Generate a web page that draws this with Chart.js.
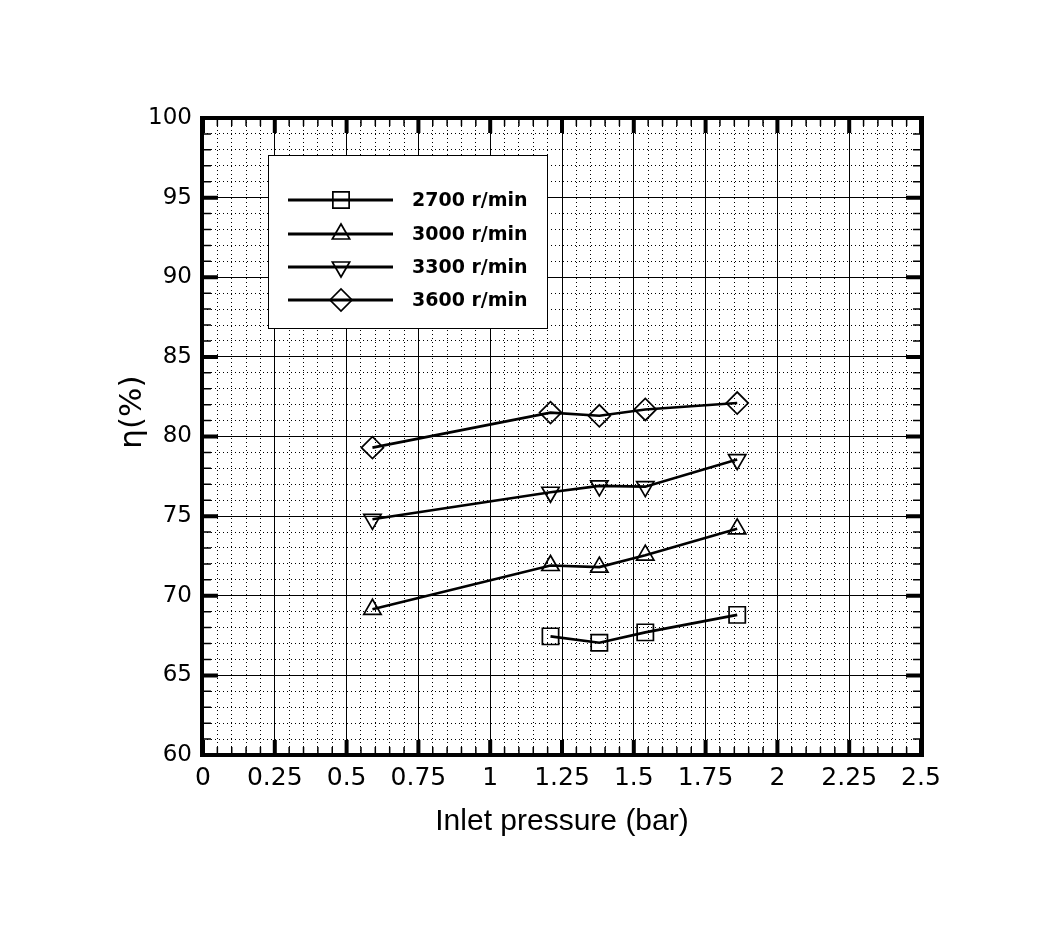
<!DOCTYPE html>
<html>
<head>
<meta charset="utf-8">
<script src="https://cdn.jsdelivr.net/npm/chart.js@4"></script>
<style>
  body { margin: 0; background: #fff; }
  #wrap { width: 1064px; height: 946px; }
</style>
</head>
<body>
<div id="wrap"><canvas id="etaChart" width="1064" height="946"></canvas></div>
<script>
// data
const pressure = [0.59, 1.21, 1.38, 1.54, 1.86];
const pressure2700 = [1.21, 1.38, 1.54, 1.86];
const eta2700 = [67.45, 67.05, 67.7, 68.8];
const eta3000 = [69.15, 71.9, 71.8, 72.55, 74.2];
const eta3300 = [74.8, 76.5, 76.9, 76.85, 78.55];
const eta3600 = [79.3, 81.5, 81.3, 81.7, 82.1];
const seriesNames = ['2700 r/min', '3000 r/min', '3300 r/min', '3600 r/min'];
const xTicks = [0, 0.25, 0.5, 0.75, 1, 1.25, 1.5, 1.75, 2, 2.25, 2.5];

function toPoints (xs, ys) {
  const pts = [];
  for (let i = 0; i < xs.length; i++) {
    pts.push({ x: xs[i], y: ys[i] });
  }
  return pts;
}

function series (label, pts, style, radius, rotation) {
  return {
    label: label,
    data: pts,
    borderColor: '#000',
    backgroundColor: 'rgba(0,0,0,0)',
    borderWidth: 2.6,
    pointStyle: style,
    pointRadius: radius,
    pointRotation: rotation,
    pointBorderWidth: 1.7,
    pointBorderColor: '#000',
    pointBackgroundColor: 'rgba(0,0,0,0)',
    tension: 0
  };
}

const datasets = [
  series(seriesNames[0], toPoints(pressure2700, eta2700), 'rect', 11.5, 0),
  series(seriesNames[1], toPoints(pressure, eta3000), 'triangle', 10, 0),
  series(seriesNames[2], toPoints(pressure, eta3300), 'triangle', 10, 180),
  series(seriesNames[3], toPoints(pressure, eta3600), 'rectRot', 11, 0)
];

/**
 * Inward ticks, thick frame, legend box and y title
 */
const framePlugin = {
  id: 'frame',
  afterDatasetsDraw (chart) {
    const ctx = chart.ctx;
    const a = chart.chartArea;
    const s = chart.scales;
    ctx.save();
    ctx.strokeStyle = '#000';

    function tick (scale, horizontal, len, w) {
      ctx.lineWidth = w;
      scale.ticks.forEach(t => {
        const p = scale.getPixelForValue(t.value);
        ctx.beginPath();
        if (horizontal) {
          ctx.moveTo(p, a.bottom); ctx.lineTo(p, a.bottom - len);
          ctx.moveTo(p, a.top); ctx.lineTo(p, a.top + len);
        } else {
          ctx.moveTo(a.left, p); ctx.lineTo(a.left + len, p);
          ctx.moveTo(a.right, p); ctx.lineTo(a.right - len, p);
        }
        ctx.stroke();
      });
    }
    tick(s.xMinor, true, 8, 1.5);
    tick(s.yMinor, false, 8, 1.5);
    tick(s.x, true, 15, 4);
    tick(s.y, false, 15, 4);

    ctx.lineWidth = 4;
    ctx.strokeRect(a.left - 1, a.top, a.right - a.left + 2, a.bottom - a.top);

    // legend
    const lx = a.left + 65;
    const ly = a.top + 37;
    ctx.fillStyle = '#fff';
    ctx.fillRect(lx, ly, 279, 173);
    ctx.lineWidth = 1;
    ctx.strokeRect(lx + 0.5, ly + 0.5, 279, 173);
    const rows = [200, 234, 267, 300];
    ctx.font = 'bold 19px "DejaVu Sans"';
    ctx.textBaseline = 'middle';
    chart.data.datasets.forEach((ds, i) => {
      const y = rows[i];
      ctx.strokeStyle = '#000';
      ctx.lineWidth = 3;
      ctx.beginPath();
      ctx.moveTo(288, y);
      ctx.lineTo(393, y);
      ctx.stroke();
      ctx.lineWidth = ds.pointBorderWidth;
      ctx.fillStyle = 'rgba(0,0,0,0)';
      Chart.helpers.drawPoint(ctx, {
        pointStyle: ds.pointStyle,
        rotation: ds.pointRotation,
        radius: ds.pointRadius,
        borderWidth: ds.pointBorderWidth
      }, 341, y);
      ctx.fillStyle = '#000';
      ctx.fillText(ds.label, 412, y + 1);
    });

    // y axis title
    ctx.translate(133, 412);
    ctx.rotate(-Math.PI / 2);
    ctx.font = '31px "DejaVu Sans"';
    ctx.textAlign = 'center';
    ctx.fillStyle = '#000';
    ctx.fillText('η(%)', 0, 0);
    ctx.restore();
  }
};

const config = {
  type: 'line',
  data: { datasets: datasets },
  options: {
    responsive: false,
    animation: false,
    layout: { padding: { left: 0, right: 143, top: 118, bottom: 0 } },
    plugins: {
      legend: { display: false },
      tooltip: { enabled: false }
    },
    scales: {
      xMinor: {
        type: 'linear',
        position: 'bottom',
        min: 0,
        max: 2.5,
        ticks: { display: false, stepSize: 0.05 },
        grid: { color: '#000', lineWidth: 1, drawTicks: false },
        border: { display: false, dash: [1, 3] },
        afterFit: function (scale) { scale.height = 0; }
      },
      yMinor: {
        type: 'linear',
        position: 'left',
        min: 60,
        max: 100,
        ticks: { display: false, stepSize: 1 },
        grid: { color: '#000', lineWidth: 1, drawTicks: false },
        border: { display: false, dash: [1, 3] },
        afterFit: function (scale) { scale.width = 0; }
      },
      x: {
        type: 'linear',
        position: 'bottom',
        min: 0,
        max: 2.5,
        afterBuildTicks: function (scale) {
          scale.ticks = xTicks.map(v => ({ value: v }));
        },
        ticks: {
          color: '#000',
          padding: 8,
          font: { family: 'DejaVu Sans', size: 25 },
          callback: v => String(v)
        },
        grid: { color: '#000', lineWidth: 1, drawTicks: false },
        border: { display: false },
        title: {
          display: true,
          text: 'Inlet pressure (bar)',
          color: '#000',
          font: { family: 'Liberation Sans', size: 30 },
          padding: { top: 0, bottom: 106 }
        },
        afterFit: function (scale) { scale.height = 191; }
      },
      y: {
        type: 'linear',
        position: 'left',
        min: 60,
        max: 100,
        ticks: {
          stepSize: 5,
          color: '#000',
          padding: 11,
          font: { family: 'DejaVu Sans', size: 23 }
        },
        grid: { color: '#000', lineWidth: 1, drawTicks: false },
        border: { display: false },
        afterFit: function (scale) { scale.width = 203; }
      }
    }
  },
  plugins: [framePlugin]
};

const myChart = new Chart(document.getElementById('etaChart'), config);
</script>
</body>
</html>
